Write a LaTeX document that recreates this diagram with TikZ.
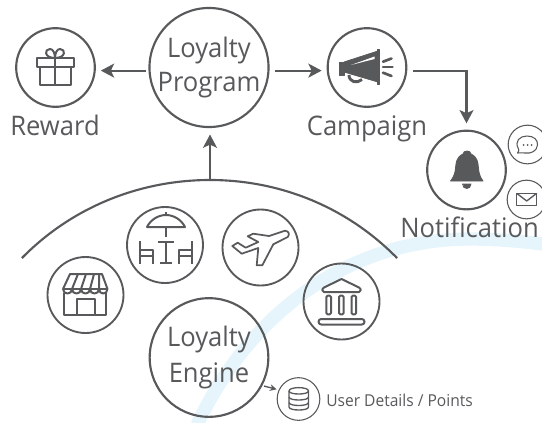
\documentclass[tikz,border=0pt]{standalone}
\usepackage{fontspec}
\setmainfont[FakeStretch=0.95]{Open Sans}
\usetikzlibrary{arrows.meta}
\definecolor{inkgray}{HTML}{58595B}
\definecolor{bandblue}{HTML}{E6F5FC}
\tikzset{
  big/.style={circle, draw=inkgray, line width=1.6pt, inner sep=0pt, outer sep=0pt, minimum size=89pt, align=center, text=inkgray, font=\fontsize{20.2}{25.5}\selectfont},
  mid/.style={circle, draw=inkgray, line width=1.6pt, inner sep=0pt, outer sep=0pt, minimum size=59pt},
  shop/.style={circle, draw=inkgray, line width=1.4pt, inner sep=0pt, outer sep=0pt, minimum size=57pt},
  tiny/.style={circle, draw=inkgray, line width=0.8pt, inner sep=0pt, outer sep=0pt, minimum size=29pt},
  caption/.style={anchor=base, text=inkgray, inner sep=0pt, font=\fontsize{20.2}{24}\selectfont},
  flow/.style={draw=inkgray, line width=1.6pt, -{Stealth[length=10pt,width=10.5pt,inset=2.5pt]}},
  icon/.style={draw=inkgray, line width=1.5pt, line join=round},
  thinicon/.style={draw=inkgray, line width=0.8pt, line join=round},
  solid icon/.style={fill=inkgray, draw=inkgray, line width=0.6pt, line join=round}
}
\begin{document}
\begin{tikzpicture}[x=0.75pt, y=-0.75pt]
  \useasboundingbox (0,0) rectangle (542,422);

  % pale band behind everything
  \draw[bandblue, line width=10pt] (197,425) .. controls (250,312) and (350,239) .. (470,239) .. controls (495,239) and (520,241) .. (550,245);

  % upper row
  \node[big] (program) at (209,67.5) {Loyalty\\Program};
  \node[mid] (reward) at (55.5,67.5) {};
  \node[mid] (campaign) at (367,67.5) {};
  \node[mid] (notify) at (466.5,170) {};
  \node[tiny] (chat) at (527.5,144.5) {};
  \node[tiny] (mail) at (526.5,199.5) {};
  \node[caption] (rewardtxt) at (55,135) {Reward};
  \node[caption] (campaigntxt) at (367,135) {Campaign};
  \node[caption] (notifytxt) at (469.5,237) {Notification};

  % lower row
  \node[big] (engine) at (209,357.5) {Loyalty\\[1.5pt]Engine};
  \node[shop] (store) at (85.5,295) {};
  \node[shop] (cafe) at (165,245) {};
  \node[shop] (plane) at (260.5,247.5) {};
  \node[shop] (bank) at (341.5,301.5) {};
  \node[circle, draw=inkgray, line width=0.8pt, inner sep=0pt, outer sep=0pt, minimum size=32pt] (db) at (298.5,399) {};
  \node[anchor=base west, inner sep=0pt, text=inkgray, font=\fontsize{12.3}{14}\selectfont] (dbtxt) at (326,406) {User Details / Points};

  % dome
  \coordinate (domeleft) at (22,258);
  \coordinate (dometop) at (210,180);
  \coordinate (domeright) at (397,258);
  \draw[inkgray, line width=1.6pt] (domeleft) .. controls (72,207) and (140,180) .. (dometop) .. controls (280,180) and (347,207) .. (domeright);

  % connectors
  \draw[flow, shorten <=2.5pt, shorten >=4.5pt] (program.183.5) -- (program.183.5 -| reward.east);
  \draw[flow, shorten <=5pt, shorten >=4.5pt] (program.-3.5) -- (program.-3.5 -| campaign.west);
  \draw[flow, shorten <=5pt, shorten >=5.5pt] (campaign.-5) -| (notify.north);
  \draw[flow] (dometop) -- ([shift={(1,7.5)}]program.south);
  \draw[draw=inkgray, line width=1pt, shorten <=2pt, shorten >=2pt, -{Stealth[length=5pt,width=5pt]}] (engine.-28) -- (db.155);

  % gift
  \draw[icon] (37,58) rectangle (74,67);
  \draw[icon] (39.5,67) rectangle (71,85);
  \draw[icon] (55,58) -- (55,85);
  \draw[icon] (55,58) .. controls (44,58) and (44,49) .. (50,49) .. controls (53,49) and (55,53) .. (55,58) .. controls (55,53) and (57,49) .. (60,49) .. controls (66,49) and (66,58) .. (55,58);

  % megaphone
  \fill[solid icon] (339.5,62) rectangle (344,75);
  \fill[solid icon] (344,62) -- (378,51) -- (378,82) -- (344,72) -- cycle;
  \fill[solid icon] (377.5,49.5) rectangle (379.5,84);
  \fill[white] (351,65) -- (374.5,56.5) -- (374.5,59) -- cycle;
  \draw[icon, line width=2.2pt] (349,75) .. controls (349,82) and (357,84) .. (362,79.5);
  \draw[icon, line cap=round, line width=2pt] (383,61.7) -- (391.5,58.5);
  \draw[icon, line cap=round, line width=2pt] (383,67) -- (392.5,67);
  \draw[icon, line cap=round, line width=2pt] (383,72.7) -- (391.5,76);

  % bell
  \fill[solid icon] (450.5,181) .. controls (456,174) and (455,170) .. (456,164) .. controls (457,157) and (461,155) .. (463,154) .. controls (463,150) and (471,150) .. (471,154) .. controls (473,155) and (477,157) .. (478,164) .. controls (479,170) and (478,174) .. (483,181) -- cycle;
  \fill[solid icon] (462.5,184) .. controls (462.5,190) and (471,190) .. (471,184) -- cycle;

  % chat and mail
  \draw[thinicon] (517.5,153) .. controls (519,151) and (519,150.5) .. (518.5,149) .. controls (514,141) and (520,136) .. (527,136) .. controls (534,136) and (538,140) .. (537.5,145) .. controls (537,151) and (531,154) .. (525,153) .. controls (522,152.5) and (520,153) .. (517.5,153) -- cycle;
  \fill[inkgray] (523.5,145) circle (1) (527.5,145) circle (1) (531.5,145) circle (1);
  \draw[thinicon, line width=1pt] (516.7,193.3) rectangle (536.7,205.7);
  \draw[thinicon, line width=1pt] (516.7,193.3) -- (526.7,201) -- (536.7,193.3);

  % cafe
  \draw[icon] (147,227) .. controls (151,219) and (159,215) .. (166,215) .. controls (173,215) and (181,219) .. (185,227) -- cycle;
  \draw[icon] (166,212) -- (166,215) (166,227) -- (166,237);
  \draw[icon] (158,242) -- (174,242) (166,242) -- (166,263) (160,263) -- (172,263);
  \draw[icon] (140,241) -- (140,264) (140,250) -- (153,250) -- (153,264) (140,256) -- (153,256);
  \draw[icon] (192,241) -- (192,264) (192,250) -- (179,250) -- (179,264) (192,256) -- (179,256);

  % store
  \draw[icon] (63,289) -- (70,274) -- (102,274) -- (107.5,289);
  \draw[icon] (63,289) -- (107.5,289);
  \draw[icon] (63,289) .. controls (63,295) and (72,295) .. (72,289) .. controls (72,295) and (81,295) .. (81,289) .. controls (81,295) and (90,295) .. (90,289) .. controls (90,295) and (99,295) .. (99,289) .. controls (99,295) and (107.5,295) .. (107.5,289);
  \draw[icon] (78,274) -- (72,289) (86,274) -- (81,289) (94,274) -- (90,289) (99,274) -- (99,289);
  \draw[icon] (64,293) -- (64,315) -- (106,315) -- (106,293);
  \draw[icon] (77,315) -- (77,298.5) -- (95,298.5) -- (95,315);

  % plane
  \draw[icon, line width=1.3pt] (269,236) -- (253.3,233.7) -- (247.7,236.3) -- (258.3,242) -- (245.7,247.7) -- (237.7,242.7) -- (232.3,246) -- (241.7,253.7) -- (258.3,248) -- (256.7,265.3) -- (262.3,265.3) -- (273.3,244.3) -- (287.7,237) .. controls (289.5,235) and (289.5,231) .. (285,230.7) -- cycle;

  % bank
  \draw[icon] (341.5,279) -- (359,287.5) .. controls (361.5,289) and (361,292) .. (359,292) -- (324,292) .. controls (322,292) and (321.5,289) .. (324,287.5) -- cycle;
  \draw[icon, rounded corners=1pt] (326.3,295.7) rectangle (331,314.3);
  \draw[icon, rounded corners=1pt] (339,295.7) rectangle (343.7,314.3);
  \draw[icon, rounded corners=1pt] (351.5,295.7) rectangle (356.2,314.3);
  \draw[icon, rounded corners=2pt] (318.5,319) rectangle (364.5,324.5);

  % cylinder
  \draw[thinicon, line width=1pt] (289,391) .. controls (289,386.5) and (308.5,386.5) .. (308.5,391) -- (308.5,407) .. controls (308.5,411) and (289,411) .. (289,407) -- cycle;
  \draw[thinicon, line width=1pt] (289,391) .. controls (289,395) and (308.5,395) .. (308.5,391);
  \draw[thinicon, line width=1pt] (289,397) .. controls (289,401) and (308.5,401) .. (308.5,397);
  \draw[thinicon, line width=1pt] (289,402.5) .. controls (289,406.5) and (308.5,406.5) .. (308.5,402.5);
\end{tikzpicture}
\end{document}
